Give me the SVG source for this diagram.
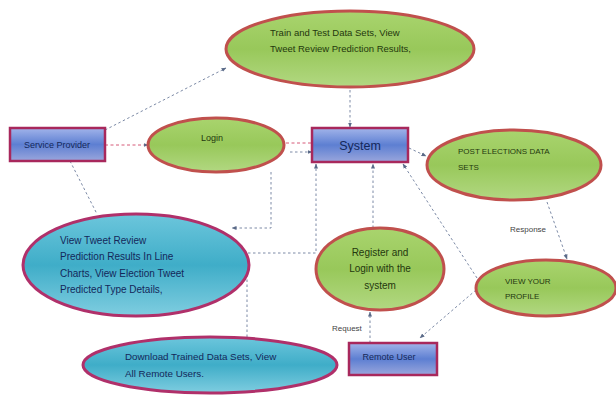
<svg xmlns="http://www.w3.org/2000/svg" width="616" height="396" viewBox="0 0 616 396">
<defs>
<linearGradient id="gGreen" x1="0" y1="0" x2="0" y2="1">
<stop offset="0" stop-color="#a9d46e"/>
<stop offset="0.5" stop-color="#98c85a"/>
<stop offset="1" stop-color="#b2d882"/>
</linearGradient>
<linearGradient id="gBlue" x1="0" y1="0" x2="0" y2="1">
<stop offset="0" stop-color="#6cc6dc"/>
<stop offset="0.5" stop-color="#3fadc8"/>
<stop offset="1" stop-color="#7fcde0"/>
</linearGradient>
<linearGradient id="gRect" x1="0" y1="0" x2="0" y2="1">
<stop offset="0" stop-color="#a2b4ea"/>
<stop offset="0.5" stop-color="#5d7fd2"/>
<stop offset="1" stop-color="#9aa6dc"/>
</linearGradient>
<marker id="arr" viewBox="0 0 10 10" refX="9" refY="5" markerWidth="5" markerHeight="5" orient="auto-start-reverse">
<path d="M0,1 L10,5 L0,9 z" fill="#5a6a88"/>
</marker>
<style>
.ge{fill:url(#gGreen);stroke:#c0504d;stroke-width:3}
.be{fill:url(#gBlue);stroke:#b0306a;stroke-width:3}
.rc{fill:url(#gRect);stroke:#a8285c;stroke-width:2.5}
.t{font-family:"Liberation Sans",Arial,sans-serif;font-size:9px}
.tg{fill:#24380e}
.tb{fill:#14285a}
.c{fill:none;stroke:#7c8aa6;stroke-width:1;stroke-dasharray:2.5,2.5}
.cr{fill:none;stroke:#d65a78;stroke-width:1;stroke-dasharray:3,2.5}
.lbl{font-family:"Liberation Sans",Arial,sans-serif;font-size:8px;fill:#444}
</style>
</defs>
<rect width="616" height="396" fill="#ffffff"/>

<g id="connectors">
<path class="c" d="M105,130 L226,68" marker-end="url(#arr)"/>
<path class="cr" d="M105,145 L148,145" marker-end="url(#arr)"/>
<path class="cr" d="M286,143 L311,143"/>
<path class="c" d="M290,152 L312,152" marker-end="url(#arr)"/>
<path class="c" d="M350,90 L350,127" marker-end="url(#arr)"/>
<path class="c" d="M409,148 L426,156" marker-end="url(#arr)"/>
<path class="c" d="M477,278 L403,164" marker-end="url(#arr)"/>
<path class="c" d="M547,202 L567,259" marker-end="url(#arr)"/>
<path class="c" d="M476,290 L420,338" marker-end="url(#arr)"/>
<path class="c" d="M370,343 L370,312" marker-end="url(#arr)"/>
<path class="c" d="M373,228 L373,164" marker-end="url(#arr)"/>
<path class="c" d="M247,337 L247,253 L316,253 L316,164" marker-end="url(#arr)"/>
<path class="c" d="M271,172 L271,228 L232,228" marker-end="url(#arr)"/>
<path class="c" d="M70,161 L97,214"/>
<text class="lbl" x="510" y="232">Response</text>
<text class="lbl" x="332" y="331">Request</text>
</g>

<g id="node-train">
<ellipse class="ge" cx="350" cy="49" rx="124" ry="38"/>
<text class="t tg" x="270" y="36" style="font-size:9.5px">Train and Test Data Sets, View</text>
<text class="t tg" x="270" y="52" style="font-size:9.5px">Tweet Review Prediction Results,</text>
</g>

<g id="node-service-provider">
<rect class="rc" x="10" y="128" width="95" height="33"/>
<text class="t tb" x="57" y="148" text-anchor="middle">Service Provider</text>
</g>

<g id="node-login">
<ellipse class="ge" cx="216" cy="145" rx="68" ry="27"/>
<text class="t tg" x="212" y="141" text-anchor="middle">Login</text>
</g>

<g id="node-system">
<rect class="rc" x="312" y="128" width="96" height="34"/>
<text x="360" y="150" text-anchor="middle" style="font-family:'Liberation Sans',Arial,sans-serif;font-size:12.5px;fill:#14285a">System</text>
</g>

<g id="node-post-elections">
<ellipse class="ge" cx="514" cy="165" rx="87" ry="35"/>
<text class="t tg" x="458" y="154" style="font-size:8px">POST ELECTIONS DATA</text>
<text class="t tg" x="458" y="170" style="font-size:8px">SETS</text>
</g>

<g id="node-view-tweet">
<ellipse class="be" cx="136" cy="265" rx="113" ry="51"/>
<text class="t tb" x="60" y="244" style="font-size:10px">View Tweet Review</text>
<text class="t tb" x="60" y="260" style="font-size:10px">Prediction Results In Line</text>
<text class="t tb" x="60" y="277" style="font-size:10px">Charts,  View Election Tweet</text>
<text class="t tb" x="60" y="293" style="font-size:10px">Predicted Type Details,</text>
</g>

<g id="node-register">
<ellipse class="ge" cx="380" cy="269" rx="64" ry="41"/>
<text class="t tg" x="380" y="256" text-anchor="middle" style="font-size:10px">Register and</text>
<text class="t tg" x="380" y="272" text-anchor="middle" style="font-size:10px">Login with the</text>
<text class="t tg" x="380" y="289" text-anchor="middle" style="font-size:10px">system</text>
</g>

<g id="node-view-profile">
<ellipse class="ge" cx="546" cy="288" rx="70" ry="28"/>
<text class="t tg" x="505" y="284" style="font-size:8px">VIEW YOUR</text>
<text class="t tg" x="505" y="299" style="font-size:8px">PROFILE</text>
</g>

<g id="node-remote-user">
<rect class="rc" x="349" y="343" width="88" height="32"/>
<text class="t tb" x="389" y="360" text-anchor="middle">Remote User</text>
</g>

<g id="node-download">
<ellipse class="be" cx="210" cy="365" rx="127" ry="28"/>
<text class="t tb" x="125" y="360" style="font-size:9.8px">Download Trained Data Sets,  View</text>
<text class="t tb" x="125" y="377" style="font-size:9.8px">All Remote Users.</text>
</g>
</svg>
